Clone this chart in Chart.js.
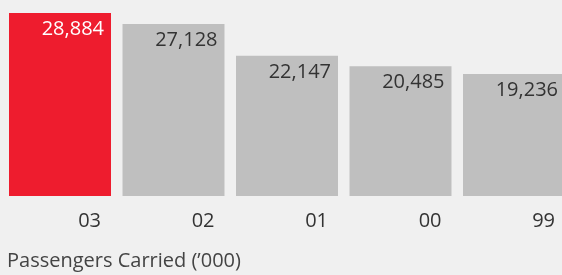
<!DOCTYPE html>
<html>
<head>
<meta charset="utf-8">
<script src="https://cdn.jsdelivr.net/npm/chart.js@4.4.1/dist/chart.umd.min.js"></script>
<style>
  html, body { margin: 0; padding: 0; background: #f0f0f0; overflow: hidden; }
  #wrap { width: 562px; height: 275px; overflow: hidden; position: relative; }
  canvas { display: block; }
</style>
</head>
<body>
<div id="wrap"><canvas id="chart" width="572" height="275"></canvas></div>
<script>
const years = ['03', '02', '01', '00', '99'];
const passengers = [28884, 27128, 22147, 20485, 19236];
const barColors = ['#ee1c2e', '#bfbfbf', '#bfbfbf', '#bfbfbf', '#bfbfbf'];
const labelColors = ['#ffffff', '#333333', '#333333', '#333333', '#333333'];
const chartTitle = "Passengers Carried (\u2019000)";

const FONT = '"Open Sans", "Noto Sans", sans-serif';

// value labels inside the bars, top right
const valueLabels = {
  id: 'valueLabels',
  afterDatasetsDraw(chart) {
    const { ctx } = chart;
    const meta = chart.getDatasetMeta(0);
    ctx.save();
    ctx.font = `20px ${FONT}`;
    ctx.textAlign = 'right';
    ctx.textBaseline = 'alphabetic';
    meta.data.forEach((bar, i) => {
      const right = bar.x + bar.width / 2;
      ctx.fillStyle = labelColors[i];
      ctx.fillText(passengers[i].toLocaleString('en-US'), right - 7, bar.y + 22);
    });
    ctx.restore();
  },
};

// caption under the axis
const caption = {
  id: 'caption',
  afterDraw(chart) {
    const { ctx } = chart;
    ctx.save();
    ctx.font = `20px ${FONT}`;
    ctx.fillStyle = '#444444';
    ctx.textAlign = 'left';
    ctx.textBaseline = 'alphabetic';
    ctx.fillText(chartTitle, 7, 267);
    ctx.restore();
  },
};

new Chart(document.getElementById('chart'), {
  type: 'bar',
  data: {
    labels: years,
    datasets: [{
      data: passengers,
      backgroundColor: barColors,
      borderWidth: 0,
      categoryPercentage: 1,
      barPercentage: 102 / 113.5,
    }],
  },
  plugins: [valueLabels, caption],
  options: {
    responsive: false,
    animation: false,
    layout: { padding: { left: 3.25, right: 1.25, top: 0, bottom: 29 } },
    plugins: {
      legend: { display: false },
      tooltip: { enabled: false },
    },
    scales: {
      x: {
        grid: { display: false, drawTicks: false },
        border: { display: false },
        ticks: {
          color: '#333333',
          font: { family: FONT, size: 20 },
          align: 'end',
          labelOffset: 41,
          padding: 13,
          maxRotation: 0,
        },
      },
      y: {
        display: false,
        min: 0,
        max: 30934,
      },
    },
  },
});
</script>
</body>
</html>
